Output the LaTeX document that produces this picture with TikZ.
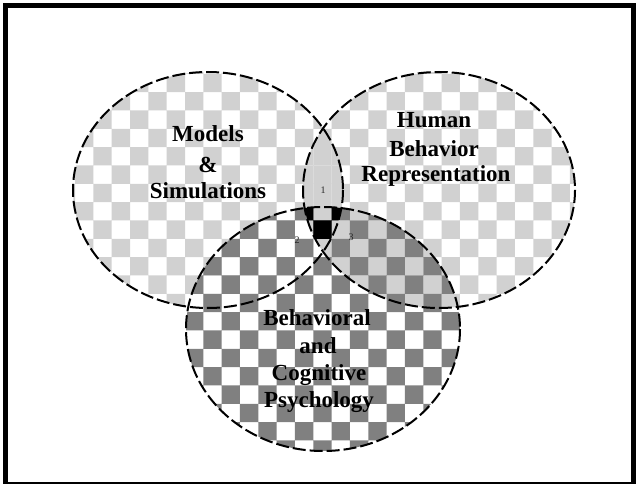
\documentclass[tikz,border=0pt]{standalone}
\usepackage{fontspec}
\setmainfont{Liberation Serif}
\definecolor{lgray}{gray}{0.82}
\definecolor{dgray}{gray}{0.5}
\newcommand\mychecks[2]{%
  \fill[#1] \foreach \j in {0,...,26}{\foreach \k in {0,...,17}{
    ({1.7+(2*\k+mod(\j+#2,2))*18.33},{0.5+\j*18.33}) rectangle ++(18.33,18.33)}};}
\tikzset{
  outline/.style={draw=black, line width=2pt, dash pattern=on 13pt off 4pt},
  lbl/.style={font=\fontsize{23}{28}\selectfont\bfseries, anchor=base, inner sep=0pt},
  num/.style={font=\fontsize{10}{11}\selectfont, text=black!85, inner sep=0pt},
}
\begin{document}
\begin{tikzpicture}[x=1pt,y=-1pt]
\useasboundingbox (0,0) rectangle (637,484);
\fill[white] (0,0) rectangle (637,484);
% left circle
\begin{scope}
  \clip (208,190) ellipse [x radius=135, y radius=118];
  \mychecks{lgray}{1}
\end{scope}
% right circle
\begin{scope}
  \clip (439,190) ellipse [x radius=136, y radius=118];
  \mychecks{lgray}{0}
\end{scope}
% bottom circle
\begin{scope}
  \clip (323,329) ellipse [x radius=137, y radius=122];
  \mychecks{dgray}{1}
\end{scope}
% triple intersection
\begin{scope}
  \clip (208,190) ellipse [x radius=135, y radius=118];
  \clip (439,190) ellipse [x radius=136, y radius=118];
  \clip (323,329) ellipse [x radius=137, y radius=122];
  \mychecks{black}{1}
\end{scope}
% outlines
\draw[outline] (208,190) ellipse [x radius=135, y radius=118];
\draw[outline] (439,190) ellipse [x radius=136, y radius=118];
\draw[outline] (323,329) ellipse [x radius=137, y radius=122];
% texts
\node[lbl] (m1) at (208,142) {Models};
\node[lbl] (m2) at (208,172) {\&};
\node[lbl] (m3) at (208,198) {Simulations};
\node[lbl] (h1) at (434,128) {Human};
\node[lbl] (h2) at (434,157) {Behavior};
\node[lbl] (h3) at (436,181) {Representation};
\node[lbl] (b1) at (317,325) {Behavioral};
\node[lbl] (b2) at (318,353) {and};
\node[lbl] (b3) at (319,380) {Cognitive};
\node[lbl] (b4) at (319,407) {Psychology};
\node[num] (n1) at (323,190) {1};
\node[num] (n2) at (297,240) {2};
\node[num] (n3) at (351,237) {3};
% frame
\draw[line width=5.5pt] (5.5,5.5) rectangle (633.5,484.5);
\end{tikzpicture}
\end{document}
